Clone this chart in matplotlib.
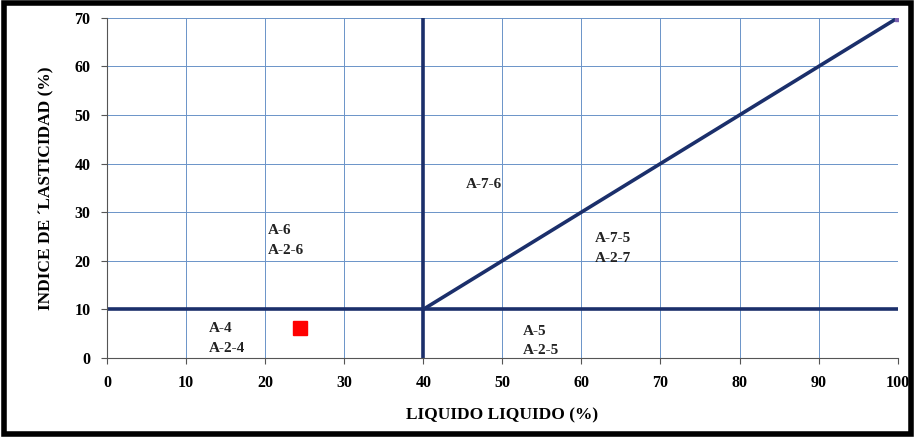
import matplotlib.pyplot as plt
from matplotlib.patches import Rectangle

plt.rcParams['font.family'] = ['Liberation Serif', 'DejaVu Serif']

# classification boundaries
h_x = [0, 100]
h_y = [10, 10]
v_x = [40, 40]
v_y = [0, 70]
d_x = [40, 100]
d_y = [10, 70]

# sample
punto_x = [24.4]
punto_y = [6.1]

zonas = ["A-6\nA-2-6", "A-4\nA-2-4", "A-7-6", "A-7-5\nA-2-7", "A-5\nA-2-5"]
zonas_x = [20.3, 12.9, 45.4, 61.7, 52.6]
zonas_y = [24.2, 4.0, 35.8, 22.5, 3.5]

linea = '#1b2f6b'
grid = '#6a93c8'

fig = plt.figure(figsize=(9.15, 4.37), dpi=100)
ax = fig.add_axes([0.117, 0.181, 0.864, 0.778])

ax.set_xlim(0, 100)
ax.set_ylim(0, 70)
ax.set_xticks(range(0, 101, 10))
ax.set_yticks(range(0, 71, 10))
ax.grid(True, color=grid, linewidth=0.7)
ax.set_axisbelow(True)

ax.plot(h_x, h_y, color=linea, lw=2.6, solid_capstyle='butt')
ax.plot(v_x, v_y, color=linea, lw=2.6, solid_capstyle='butt')
ax.plot(d_x, d_y, color=linea, lw=2.6)
ax.plot([100], [70], 's', color='#7a5fb0', ms=4)

ax.plot(punto_x, punto_y, 's', color='#ff0000', ms=10)

for t, x, y in zip(zonas, zonas_x, zonas_y):
    ax.text(x, y, t, fontsize=11, fontweight='bold', color='#222222',
            ha='left', va='center', linespacing=1.65)

for s in ['top', 'right']:
    ax.spines[s].set_visible(False)
for s in ['left', 'bottom']:
    ax.spines[s].set_color('#555555')
ax.tick_params(labelsize=11.5, length=4, color='#555555')
ax.tick_params(axis='x', pad=8)
ax.tick_params(axis='y', pad=8)
for lab in ax.get_xticklabels() + ax.get_yticklabels():
    lab.set_fontweight('bold')

ax.set_xlabel("LIQUIDO LIQUIDO (%)", fontsize=12.5, fontweight='bold', labelpad=12)
ax.set_ylabel("INDICE DE ´LASTICIDAD (%)", fontsize=12.5, fontweight='bold', labelpad=14)

fig.patches.append(Rectangle((0.004, 0.006), 0.992, 0.986, transform=fig.transFigure,
                             fill=False, edgecolor='black', linewidth=4))

fig.savefig("out.png", dpi=100)
